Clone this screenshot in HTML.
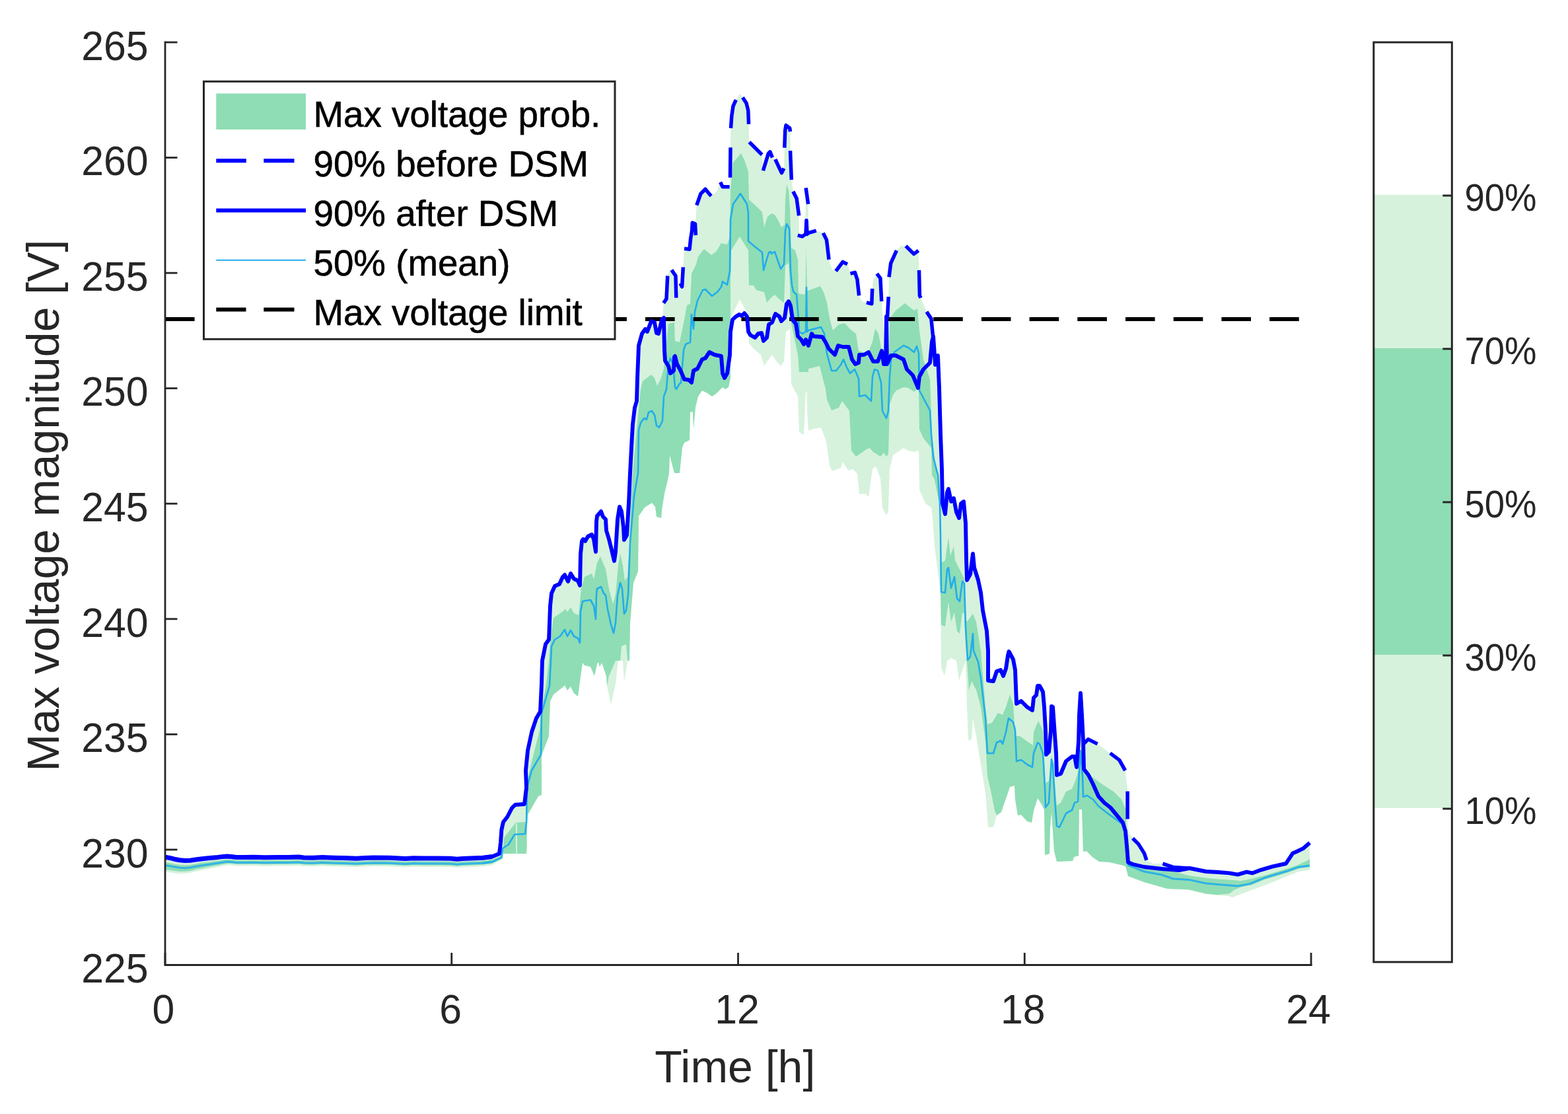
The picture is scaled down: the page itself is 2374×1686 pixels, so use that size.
<!DOCTYPE html>
<html lang="en"><head><meta charset="utf-8"><title>Max voltage magnitude</title>
<style>html,body{margin:0;padding:0;background:#fff}body{width:2374px;height:1686px;overflow:hidden}svg{display:block;filter:blur(0.75px)}text{font-family:"Liberation Sans",Arial,Helvetica,sans-serif}.tk{font-size:60px;fill:#262626}.lb{font-size:68px;fill:#262626}.lg{font-size:54.7px;fill:#000;stroke:#000;stroke-width:0.6px}.cb{font-size:54.5px;fill:#262626}</style>
</head><body>
<svg width="2374" height="1686" viewBox="0 0 2374 1686">
<rect width="2374" height="1686" fill="#fff"/>
<g id="bands"><polygon fill="#d6f2dc" points="250.0,1297.3 256.0,1298.2 264.0,1300.2 272.0,1301.8 280.0,1302.6 288.0,1302.2 296.0,1301.0 306.0,1299.8 318.0,1298.6 330.0,1297.4 338.0,1296.4 344.0,1296.0 350.0,1296.6 358.0,1297.4 370.0,1297.6 384.0,1297.2 400.0,1297.8 420.0,1297.4 436.0,1297.6 452.0,1297.0 460.0,1298.0 474.0,1298.2 488.0,1297.4 500.0,1298.0 520.0,1298.6 540.0,1299.2 552.0,1298.4 566.0,1298.0 590.0,1298.2 604.0,1299.0 614.0,1299.6 626.0,1298.8 640.0,1299.0 660.0,1299.0 682.0,1299.2 692.0,1300.2 700.0,1299.4 731.0,1298.2 745.0,1296.5 756.0,1292.0 758.0,1275.0 759.3,1256.0 762.0,1244.0 768.0,1236.5 775.0,1223.0 780.0,1218.0 794.0,1217.0 797.0,1192.0 796.0,1166.0 799.0,1136.0 805.0,1108.0 812.0,1087.0 818.0,1077.0 820.0,1035.0 821.0,1000.0 826.0,975.0 831.0,968.0 832.0,943.0 833.0,917.0 835.0,898.0 840.0,887.0 847.0,884.0 852.0,873.0 855.0,870.0 860.0,880.0 864.0,868.0 869.0,876.0 875.0,879.0 878.0,886.0 879.0,838.0 881.0,819.0 883.0,816.0 886.0,819.0 890.0,812.0 896.0,809.0 899.0,816.0 902.0,835.0 903.0,789.0 904.0,781.0 910.0,774.0 913.0,782.0 917.0,786.0 918.0,803.0 922.0,816.0 925.0,828.0 930.0,849.0 932.0,835.0 935.0,786.0 938.0,767.0 941.0,774.0 944.0,798.0 945.0,817.0 949.0,810.0 952.0,761.0 954.0,716.0 956.0,677.0 958.0,642.0 961.0,617.0 964.0,607.0 965.0,572.0 967.0,523.0 972.0,505.0 977.0,498.0 980.0,502.0 986.0,486.0 991.0,488.0 994.0,504.0 997.0,505.0 1002.0,484.0 1003.0,484.0 1004.6,458.6 1009.0,440.0 1010.7,417.5 1013.0,411.0 1016.8,408.7 1023.0,417.5 1023.8,450.7 1027.0,440.0 1030.0,428.8 1032.6,434.0 1034.3,404.3 1036.0,376.3 1044.0,377.2 1045.7,360.6 1047.5,350.0 1048.3,335.2 1052.7,338.7 1054.8,310.7 1060.9,293.2 1067.9,286.2 1076.7,296.7 1085.0,290.0 1090.6,275.7 1094.1,282.7 1104.6,282.7 1105.2,268.7 1105.8,223.2 1106.5,194.0 1107.8,175.6 1110.0,160.7 1114.3,151.1 1118.0,145.0 1121.3,142.0 1124.4,147.6 1130.1,156.3 1132.7,166.8 1133.6,187.8 1134.4,215.0 1143.2,223.7 1153.7,234.2 1155.4,258.2 1157.2,252.0 1163.3,232.4 1165.9,229.8 1169.4,238.6 1173.8,241.2 1183.4,262.0 1186.8,254.7 1187.8,223.7 1188.7,197.5 1190.0,189.6 1195.7,194.0 1196.5,199.2 1196.7,228.1 1198.3,272.2 1200.8,289.7 1206.1,300.2 1209.6,326.4 1210.0,356.0 1214.8,357.9 1219.0,357.0 1220.1,284.4 1223.6,308.9 1224.0,352.6 1235.8,349.1 1246.3,352.6 1251.5,363.1 1255.0,392.9 1260.0,408.0 1265.5,410.4 1276.0,396.4 1283.0,399.9 1287.5,414.2 1294.4,412.4 1297.9,422.9 1300.6,447.4 1305.0,456.0 1311.9,457.9 1319.8,459.7 1320.7,436.9 1322.0,423.0 1327.7,414.2 1332.9,421.2 1334.7,456.2 1338.0,500.0 1341.0,551.0 1343.4,482.4 1345.2,449.2 1346.0,419.4 1348.7,398.4 1357.4,379.2 1364.0,372.0 1371.4,372.2 1383.6,384.4 1390.6,379.2 1391.5,408.9 1392.4,447.4 1394.1,450.9 1402.9,471.9 1409.9,482.4 1412.5,508.6 1416.0,552.0 1420.0,538.0 1422.0,587.0 1424.0,657.0 1426.0,710.0 1427.0,762.0 1431.0,778.0 1434.0,745.0 1436.0,740.0 1440.0,759.0 1444.0,754.0 1448.0,775.0 1452.0,784.0 1455.0,762.0 1459.0,759.0 1462.0,792.0 1463.0,845.0 1464.0,878.0 1469.0,869.0 1473.0,838.0 1475.0,859.0 1481.0,878.0 1485.0,897.0 1488.0,924.0 1494.0,955.0 1496.0,985.0 1496.0,1030.0 1504.0,1031.0 1509.0,1016.0 1515.0,1014.0 1519.0,1023.0 1523.0,1012.0 1526.0,992.0 1527.5,986.0 1534.0,998.0 1537.0,1014.0 1539.0,1065.0 1546.0,1061.0 1555.0,1070.0 1563.0,1075.0 1565.0,1056.0 1569.0,1052.0 1571.0,1038.0 1574.0,1038.0 1579.0,1047.0 1581.0,1070.0 1583.0,1105.0 1584.0,1142.0 1588.0,1138.0 1591.0,1105.0 1592.0,1069.0 1594.0,1070.0 1597.0,1112.0 1599.0,1140.0 1600.0,1173.0 1606.0,1171.0 1614.0,1152.0 1623.0,1145.0 1627.0,1145.0 1630.0,1161.0 1633.0,1122.0 1634.0,1082.0 1636.0,1049.0 1638.0,1082.0 1640.0,1122.0 1640.6,1125.9 1647.6,1118.9 1661.6,1125.9 1680.8,1139.9 1694.8,1150.4 1703.6,1166.2 1706.0,1184.0 1707.1,1197.6 1707.1,1239.6 1709.0,1260.0 1714.9,1268.7 1723.6,1277.4 1732.4,1291.4 1735.9,1301.9 1746.0,1307.0 1760.4,1307.1 1776.1,1312.4 1798.9,1314.1 1801.0,1314.0 1826.0,1319.0 1844.0,1320.0 1861.0,1321.4 1874.0,1323.6 1887.5,1319.6 1896.0,1321.4 1909.0,1316.6 1927.0,1311.3 1947.0,1307.0 1957.4,1291.2 1961.8,1289.5 1973.0,1284.2 1983.0,1275.5 1983.0,1316.6 1966.0,1319.2 1948.7,1326.2 1913.7,1340.2 1887.5,1349.8 1874.0,1355.0 1865.6,1358.5 1861.0,1356.0 1843.7,1355.0 1826.0,1353.3 1800.0,1347.0 1767.0,1345.0 1732.0,1335.0 1708.0,1326.0 1704.0,1311.0 1697.0,1309.0 1680.0,1305.0 1664.0,1304.0 1654.0,1297.0 1645.0,1288.0 1640.0,1289.0 1638.0,1225.0 1634.0,1225.0 1633.0,1295.0 1626.0,1297.0 1624.0,1303.0 1600.0,1304.0 1596.0,1288.0 1592.0,1228.0 1590.0,1253.0 1589.0,1292.0 1582.0,1294.0 1581.0,1226.0 1578.0,1219.0 1571.0,1208.0 1565.0,1227.0 1562.0,1245.0 1555.0,1243.0 1546.0,1233.0 1541.0,1234.0 1537.0,1210.0 1536.0,1189.0 1529.0,1191.0 1525.0,1203.0 1520.0,1217.0 1516.0,1229.0 1509.0,1234.0 1506.0,1245.0 1504.0,1252.0 1496.0,1252.0 1492.0,1201.0 1485.0,1157.0 1478.0,1114.0 1473.0,1087.0 1471.0,1119.0 1466.0,1121.0 1464.0,1070.0 1462.0,1000.0 1458.0,1012.0 1452.0,1030.0 1448.0,1000.0 1440.0,996.0 1434.0,1000.0 1430.0,1023.0 1425.0,1010.0 1424.0,897.0 1415.0,827.0 1413.0,800.0 1412.0,784.0 1410.0,768.0 1401.0,762.0 1392.0,741.0 1391.0,682.0 1384.0,684.0 1375.0,682.0 1368.0,678.0 1352.0,689.0 1347.0,710.0 1345.0,773.0 1342.0,780.0 1336.0,769.0 1333.0,724.0 1326.0,706.0 1321.0,710.0 1315.0,752.0 1310.0,747.0 1301.0,748.0 1298.0,717.0 1291.0,710.0 1284.0,712.0 1276.0,699.0 1273.0,708.0 1260.0,713.0 1256.0,705.0 1252.0,675.0 1250.0,665.0 1243.0,647.0 1232.0,649.0 1224.0,652.0 1220.0,589.0 1217.0,658.0 1210.0,654.0 1208.0,600.0 1198.0,581.0 1197.0,537.0 1196.0,498.0 1190.0,502.0 1187.0,547.0 1182.0,554.0 1175.0,546.0 1169.0,537.0 1162.0,546.0 1157.0,554.0 1152.0,537.0 1141.0,528.0 1134.0,519.0 1133.0,477.0 1120.0,453.0 1110.0,474.0 1106.0,484.0 1106.0,572.0 1103.0,586.0 1098.0,589.0 1094.0,586.0 1091.0,589.0 1085.0,595.0 1078.0,600.0 1071.0,595.0 1063.0,591.0 1057.0,600.0 1053.0,616.0 1050.0,649.0 1049.0,623.0 1045.0,624.0 1044.0,666.0 1036.0,670.0 1033.0,677.0 1029.0,716.0 1021.0,716.0 1014.0,689.0 1013.0,716.0 1011.0,726.0 1006.0,747.0 1002.0,772.0 1001.0,784.0 994.0,782.0 992.0,767.0 987.0,761.0 976.0,768.0 967.0,781.0 966.0,865.0 959.0,882.0 954.0,943.0 953.0,1000.0 950.0,1000.0 945.0,1033.0 943.0,1000.0 936.0,1000.0 932.0,1035.0 925.0,1066.0 919.0,1038.0 918.0,1023.0 911.0,1003.0 908.0,1009.0 906.0,1002.0 904.0,1005.0 900.0,1023.0 894.0,1009.0 885.0,1007.0 882.0,1003.0 878.0,1031.0 875.0,1054.0 869.0,1049.0 864.0,1039.0 859.0,1045.0 855.0,1037.0 852.0,1040.0 838.0,1051.0 833.0,1061.0 831.0,1114.0 820.0,1143.0 820.0,1203.0 815.0,1205.0 799.0,1233.0 798.0,1245.0 797.5,1284.0 797.0,1292.0 762.0,1292.0 761.0,1300.0 745.0,1309.5 731.0,1311.2 700.0,1312.4 692.0,1313.2 682.0,1312.2 660.0,1312.0 640.0,1312.0 626.0,1311.8 614.0,1312.6 604.0,1312.0 590.0,1311.2 566.0,1311.0 552.0,1311.4 540.0,1312.2 520.0,1311.6 500.0,1311.0 488.0,1310.4 474.0,1311.2 460.0,1311.0 452.0,1310.0 436.0,1310.6 420.0,1310.4 400.0,1310.8 384.0,1310.2 370.0,1310.6 358.0,1310.4 350.0,1309.6 344.0,1309.6 338.0,1310.5 330.0,1312.3 318.0,1314.6 306.0,1317.0 296.0,1319.1 288.0,1321.1 280.0,1322.2 272.0,1322.2 264.0,1321.4 256.0,1320.1 250.0,1319.8"/>
<polygon fill="#8fddb4" points="250.0,1305.3 256.0,1306.0 264.0,1307.7 272.0,1309.0 280.0,1309.5 288.0,1308.9 296.0,1307.4 306.0,1305.8 318.0,1304.2 330.0,1302.6 338.0,1301.3 344.0,1300.7 350.0,1301.1 358.0,1301.9 370.0,1302.1 384.0,1301.7 400.0,1302.3 420.0,1301.9 436.0,1302.1 452.0,1301.5 460.0,1302.5 474.0,1302.7 488.0,1301.9 500.0,1302.5 520.0,1303.1 540.0,1303.7 552.0,1302.9 566.0,1302.5 590.0,1302.7 604.0,1303.5 614.0,1304.1 626.0,1303.3 640.0,1303.5 660.0,1303.5 682.0,1303.7 692.0,1304.7 700.0,1303.9 731.0,1302.7 745.0,1301.0 761.0,1294.0 763.0,1268.0 781.0,1245.0 796.0,1244.0 797.0,1201.0 800.0,1175.0 806.0,1149.0 817.0,1105.0 819.0,1079.0 827.0,1035.0 831.0,1000.0 834.0,961.0 838.0,935.0 854.0,924.0 855.0,921.0 859.0,926.0 864.0,919.0 869.0,928.0 876.0,931.0 880.0,891.0 885.0,873.0 896.0,868.0 899.0,877.0 904.0,852.0 909.0,842.0 913.0,852.0 917.0,861.0 922.0,891.0 928.0,914.0 932.0,900.0 936.0,856.0 939.0,838.0 943.0,856.0 946.0,879.0 950.0,873.0 953.0,828.0 955.0,768.0 958.0,716.0 963.0,660.0 970.0,589.0 973.0,577.0 986.0,567.0 991.0,572.0 995.0,584.0 1001.0,572.0 1005.0,558.0 1012.0,490.0 1021.0,488.0 1022.0,516.0 1029.0,518.0 1036.0,484.0 1040.0,462.0 1045.0,460.0 1047.0,414.0 1054.0,400.0 1057.0,388.0 1066.0,377.0 1077.0,386.0 1084.0,381.0 1092.0,368.0 1101.0,370.0 1105.0,358.0 1106.0,288.0 1110.0,246.0 1122.0,232.0 1127.0,242.0 1133.0,260.0 1134.0,302.0 1145.0,312.0 1154.0,321.0 1157.0,344.0 1162.0,328.0 1168.0,323.0 1173.0,325.0 1178.0,333.0 1183.0,344.0 1188.0,340.0 1189.0,302.0 1191.0,279.0 1194.0,288.0 1196.0,316.0 1198.0,375.0 1204.0,379.0 1208.0,393.0 1209.0,444.0 1217.0,446.0 1219.3,444.0 1220.6,376.0 1222.0,440.0 1226.0,439.0 1242.0,433.0 1247.0,442.0 1252.0,458.0 1256.0,482.0 1261.0,500.0 1270.0,491.0 1279.0,489.0 1287.0,498.0 1296.0,505.0 1300.0,531.0 1314.0,535.0 1321.0,517.0 1325.0,497.0 1330.0,505.0 1335.0,531.0 1340.0,552.0 1346.0,552.0 1347.0,482.0 1356.0,470.0 1370.0,459.0 1384.0,470.0 1389.0,467.0 1392.0,500.0 1398.0,544.0 1408.0,574.0 1409.0,600.0 1411.0,660.0 1415.0,690.0 1419.0,725.0 1421.0,745.0 1423.0,792.0 1425.0,852.0 1431.0,848.0 1436.0,813.0 1439.0,841.0 1444.0,827.0 1446.0,848.0 1453.0,862.0 1460.0,876.0 1461.0,932.0 1464.0,941.0 1473.0,929.0 1478.0,941.0 1485.0,985.0 1492.0,1070.0 1495.0,1096.0 1502.0,1094.0 1511.0,1079.0 1518.0,1082.0 1523.0,1070.0 1529.0,1051.0 1534.0,1066.0 1537.0,1114.0 1544.0,1114.0 1555.0,1122.0 1564.0,1128.0 1565.0,1108.0 1572.0,1091.0 1579.0,1105.0 1581.0,1149.0 1583.0,1185.0 1588.0,1182.0 1592.0,1143.0 1597.0,1184.0 1600.0,1219.0 1606.0,1215.0 1614.0,1198.0 1623.0,1194.0 1628.0,1182.0 1633.0,1166.0 1636.0,1136.0 1641.0,1166.0 1642.0,1168.0 1655.0,1177.0 1669.0,1187.0 1686.0,1198.0 1698.0,1210.0 1704.0,1224.0 1706.0,1262.0 1708.0,1284.0 1708.0,1307.0 1759.0,1314.0 1800.0,1325.3 1826.0,1328.8 1843.7,1330.6 1870.0,1332.3 1878.7,1333.2 1896.0,1329.7 1913.7,1325.3 1948.7,1314.8 1966.0,1308.7 1979.0,1302.6 1983.0,1300.0 1983.0,1312.2 1966.0,1314.8 1948.7,1321.0 1913.7,1331.4 1896.0,1339.3 1878.7,1342.8 1870.0,1346.3 1861.0,1352.4 1843.7,1354.2 1826.0,1352.4 1800.0,1346.3 1767.0,1345.0 1732.0,1335.0 1708.0,1326.0 1704.0,1311.0 1697.0,1309.0 1680.0,1305.0 1664.0,1304.0 1654.0,1297.0 1645.0,1288.0 1640.0,1289.0 1638.0,1225.0 1634.0,1225.0 1633.0,1295.0 1626.0,1297.0 1624.0,1303.0 1600.0,1304.0 1596.0,1288.0 1592.0,1228.0 1590.0,1253.0 1589.0,1292.0 1582.0,1294.0 1581.0,1226.0 1578.0,1219.0 1571.0,1208.0 1565.0,1227.0 1562.0,1245.0 1555.0,1243.0 1546.0,1233.0 1541.0,1234.0 1537.0,1210.0 1536.0,1189.0 1529.0,1191.0 1525.0,1203.0 1520.0,1217.0 1516.0,1229.0 1509.0,1234.0 1506.0,1227.0 1501.0,1201.0 1495.0,1175.0 1492.0,1122.0 1485.0,1070.0 1478.0,1044.0 1471.0,1031.0 1467.0,1045.0 1464.0,1000.0 1462.0,976.0 1460.0,929.0 1457.0,927.0 1453.0,959.0 1449.0,955.0 1445.0,927.0 1440.0,941.0 1436.0,911.0 1431.0,948.0 1425.0,946.0 1424.0,897.0 1423.0,784.0 1422.0,762.0 1415.0,726.0 1411.0,719.0 1410.0,678.0 1398.0,663.0 1392.0,650.0 1391.0,587.0 1384.0,593.0 1375.0,587.0 1368.0,586.0 1357.0,591.0 1352.0,598.0 1347.0,612.0 1345.0,687.0 1342.0,691.0 1338.0,685.0 1333.0,691.0 1322.0,684.0 1317.0,678.0 1312.0,680.0 1296.0,691.0 1289.0,682.0 1286.0,622.0 1275.0,607.0 1270.0,617.0 1259.0,621.0 1252.0,605.0 1250.0,589.0 1241.0,554.0 1224.0,558.0 1224.0,563.0 1210.0,563.0 1208.0,537.0 1197.0,484.0 1196.0,432.0 1194.0,398.0 1189.0,402.0 1188.0,432.0 1187.0,458.0 1180.0,453.0 1173.0,446.0 1168.0,450.0 1161.0,458.0 1157.0,442.0 1145.0,439.0 1141.0,432.0 1134.0,432.0 1133.0,379.0 1120.0,358.0 1107.0,379.0 1106.0,432.0 1106.0,572.0 1103.0,586.0 1098.0,589.0 1094.0,586.0 1091.0,589.0 1085.0,595.0 1078.0,600.0 1071.0,595.0 1063.0,591.0 1057.0,600.0 1053.0,616.0 1050.0,649.0 1049.0,623.0 1045.0,624.0 1044.0,666.0 1036.0,670.0 1033.0,677.0 1029.0,716.0 1021.0,716.0 1014.0,689.0 1013.0,716.0 1011.0,726.0 1006.0,747.0 1002.0,772.0 1001.0,784.0 994.0,782.0 992.0,767.0 987.0,761.0 976.0,768.0 967.0,781.0 966.0,865.0 959.0,882.0 954.0,943.0 953.0,1000.0 950.0,1000.0 948.0,975.0 941.0,978.0 939.0,1000.0 932.0,1000.0 922.0,1023.0 919.0,1038.0 918.0,1023.0 911.0,1003.0 908.0,1009.0 906.0,1002.0 904.0,1005.0 900.0,1023.0 894.0,1009.0 885.0,1007.0 882.0,1003.0 878.0,1031.0 875.0,1054.0 869.0,1049.0 864.0,1039.0 859.0,1045.0 855.0,1037.0 852.0,1040.0 838.0,1051.0 833.0,1061.0 831.0,1114.0 820.0,1143.0 820.0,1203.0 815.0,1205.0 799.0,1233.0 798.0,1245.0 797.5,1284.0 797.0,1292.0 762.0,1292.0 761.0,1299.0 745.0,1307.0 731.0,1308.7 700.0,1309.9 692.0,1310.7 682.0,1309.7 660.0,1309.5 640.0,1309.5 626.0,1309.3 614.0,1310.1 604.0,1309.5 590.0,1308.7 566.0,1308.5 552.0,1308.9 540.0,1309.7 520.0,1309.1 500.0,1308.5 488.0,1307.9 474.0,1308.7 460.0,1308.5 452.0,1307.5 436.0,1308.1 420.0,1307.9 400.0,1308.3 384.0,1307.7 370.0,1308.1 358.0,1307.9 350.0,1307.1 344.0,1307.0 338.0,1307.9 330.0,1309.6 318.0,1311.8 306.0,1314.0 296.0,1316.1 288.0,1318.0 280.0,1319.0 272.0,1318.9 264.0,1318.0 256.0,1316.7 250.0,1316.3"/></g>
<path d="M782 1246 V1291.5 M1221 593 V654" stroke="#fff" stroke-width="1.4" stroke-opacity="0.85" fill="none"/>
<path fill="none" stroke="#22adeb" stroke-opacity="0.85" stroke-width="3" stroke-linejoin="round" d="M250.0 1309.8 L256.0 1310.4 L264.0 1312.1 L272.0 1313.3 L280.0 1313.8 L288.0 1313.0 L296.0 1311.4 L306.0 1309.8 L318.0 1308.0 L330.0 1306.3 L338.0 1304.9 L344.0 1304.3 L350.0 1304.6 L358.0 1305.4 L370.0 1305.6 L384.0 1305.2 L400.0 1305.8 L420.0 1305.4 L436.0 1305.6 L452.0 1305.0 L460.0 1306.0 L474.0 1306.2 L488.0 1305.4 L500.0 1306.0 L520.0 1306.6 L540.0 1307.2 L552.0 1306.4 L566.0 1306.0 L590.0 1306.2 L604.0 1307.0 L614.0 1307.6 L626.0 1306.8 L640.0 1307.0 L660.0 1307.0 L682.0 1307.2 L692.0 1308.2 L700.0 1307.4 L731.0 1306.2 L745.0 1304.5"/>
<path id="mean" fill="none" stroke="#22adeb" stroke-width="2.6" stroke-linejoin="round" d="M731.0 1306.2 L745.0 1304.5 L759.0 1298.0 L761.0 1284.0 L770.0 1278.0 L779.0 1263.0 L795.0 1262.0 L797.0 1245.0 L798.0 1192.0 L805.0 1166.0 L819.0 1142.0 L820.0 1079.0 L832.0 1038.0 L834.0 1000.0 L835.0 978.0 L840.0 968.0 L848.0 963.0 L855.0 953.0 L859.0 963.0 L864.0 954.0 L869.0 963.0 L875.0 966.0 L878.0 973.0 L879.0 926.0 L882.0 910.0 L894.0 908.0 L899.0 917.0 L902.0 937.0 L903.0 900.0 L904.0 891.0 L910.0 888.0 L914.0 898.0 L917.0 901.0 L920.0 922.0 L925.0 945.0 L929.0 958.0 L932.0 943.0 L935.0 901.0 L939.0 882.0 L942.0 891.0 L945.0 929.0 L948.0 924.0 L951.0 900.0 L954.0 821.0 L960.0 751.0 L966.0 716.0 L967.0 651.0 L970.0 640.0 L975.0 633.0 L979.0 635.0 L982.0 624.0 L987.0 622.0 L991.0 628.0 L994.0 644.0 L998.0 647.0 L1003.0 637.0 L1005.0 600.0 L1009.0 589.0 L1012.0 551.0 L1015.0 542.0 L1019.0 551.0 L1022.0 586.0 L1024.0 589.0 L1028.0 582.0 L1031.0 579.0 L1035.0 530.0 L1038.0 521.0 L1045.0 518.0 L1047.0 476.0 L1050.0 498.0 L1052.0 472.0 L1056.0 455.0 L1064.0 439.0 L1068.0 438.0 L1078.0 448.0 L1087.0 441.0 L1092.0 434.0 L1094.0 426.0 L1101.0 431.0 L1105.0 410.0 L1106.0 332.0 L1110.0 309.0 L1121.0 293.0 L1131.0 309.0 L1133.0 323.0 L1133.0 365.0 L1145.0 375.0 L1154.0 382.0 L1156.0 409.0 L1164.0 382.0 L1167.0 381.0 L1168.0 384.0 L1173.0 381.0 L1182.0 407.0 L1187.0 400.0 L1189.0 349.0 L1191.0 339.0 L1195.0 346.0 L1197.0 410.0 L1199.0 432.0 L1201.0 441.0 L1206.0 446.0 L1209.0 484.0 L1210.0 502.0 L1215.0 505.0 L1220.0 502.0 L1221.0 435.0 L1222.0 502.0 L1224.0 500.0 L1243.0 495.0 L1248.0 505.0 L1252.0 535.0 L1259.0 561.0 L1266.0 561.0 L1273.0 552.0 L1277.0 544.0 L1282.0 556.0 L1287.0 565.0 L1294.0 559.0 L1300.0 573.0 L1301.0 600.0 L1310.0 598.0 L1319.0 607.0 L1321.0 570.0 L1324.0 559.0 L1329.0 561.0 L1334.0 579.0 L1336.0 622.0 L1342.0 633.0 L1345.0 622.0 L1347.0 570.0 L1349.0 544.0 L1354.0 533.0 L1368.0 523.0 L1375.0 526.0 L1384.0 533.0 L1388.0 524.0 L1391.0 535.0 L1392.0 591.0 L1401.0 608.0 L1408.0 621.0 L1410.0 657.0 L1413.0 692.0 L1420.0 719.0 L1423.0 762.0 L1424.0 810.0 L1425.0 896.0 L1431.0 897.0 L1434.0 862.0 L1436.0 859.0 L1440.0 890.0 L1445.0 873.0 L1449.0 906.0 L1453.0 910.0 L1457.0 880.0 L1460.0 883.0 L1462.0 950.0 L1465.0 999.0 L1469.0 994.0 L1473.0 959.0 L1474.0 985.0 L1481.0 1002.0 L1485.0 1026.0 L1492.0 1087.0 L1495.0 1140.0 L1504.0 1140.0 L1509.0 1124.0 L1515.0 1121.0 L1518.0 1126.0 L1523.0 1108.0 L1527.0 1087.0 L1534.0 1093.0 L1537.0 1105.0 L1539.0 1152.0 L1546.0 1150.0 L1555.0 1157.0 L1563.0 1161.0 L1565.0 1140.0 L1571.0 1124.0 L1574.0 1126.0 L1579.0 1140.0 L1582.0 1192.0 L1583.0 1222.0 L1588.0 1215.0 L1592.0 1149.0 L1594.0 1157.0 L1597.0 1210.0 L1600.0 1250.0 L1604.0 1252.0 L1614.0 1231.0 L1623.0 1226.0 L1627.0 1215.0 L1632.0 1213.0 L1634.0 1166.0 L1636.0 1136.0 L1639.0 1175.0 L1640.0 1206.0 L1646.0 1204.0 L1655.0 1210.0 L1663.0 1220.0 L1677.0 1231.0 L1691.0 1241.0 L1700.0 1248.0 L1705.0 1271.0 L1707.0 1284.0 L1708.0 1309.0 L1715.0 1312.0"/>
<path fill="none" stroke="#22adeb" stroke-opacity="0.9" stroke-width="3" stroke-linejoin="round" d="M1708.0 1309.0 L1715.0 1312.0 L1732.0 1319.0 L1759.0 1324.0 L1776.0 1330.0 L1800.0 1331.4 L1826.0 1337.0 L1852.5 1339.3 L1874.0 1341.0 L1892.0 1337.6 L1913.7 1328.8 L1948.7 1318.3 L1966.0 1312.2 L1983.0 1310.0"/>
<line id="limit" x1="250.0" y1="483.0" x2="1985.0" y2="483.0" stroke="#000" stroke-width="5.9" stroke-dasharray="44.6 28.1"/>
<g id="before" fill="none" stroke="#0000ff" stroke-width="5.5" stroke-linejoin="round">
<path d="M1004.6 458.6 L1009.0 452.4 L1010.7 417.5"/>
<path d="M1016.8 408.7 L1023.0 417.5 L1023.8 450.7"/>
<path d="M1030.0 428.8 L1032.6 434.0 L1034.3 404.3"/>
<path d="M1036.0 376.3 L1044.0 377.2 L1045.7 360.6 L1047.5 350.0 L1048.3 337.0 L1052.5 338.7 L1053.4 356.0"/>
<path d="M1054.8 310.7 L1060.9 293.2 L1067.9 286.2 L1076.7 296.7"/>
<path d="M1090.6 275.7 L1094.1 282.7 L1104.6 282.7"/>
<path d="M1105.5 268.7 L1106.0 223.2"/>
<path d="M1106.5 194.0 L1107.8 175.6 L1110.0 160.7 L1114.3 151.1"/>
<path d="M1124.4 147.6 L1130.1 156.3 L1132.7 166.8 L1133.6 187.8"/>
<path d="M1134.4 215.0 L1143.2 223.7 L1153.7 234.2"/>
<path d="M1155.4 258.2 L1163.3 232.4 L1165.9 229.8 L1169.4 238.6"/>
<path d="M1173.8 241.2 L1183.4 261.7 L1186.8 254.7"/>
<path d="M1187.8 223.7 L1188.7 197.5 L1190.0 189.6 L1195.7 194.0 L1196.5 199.2"/>
<path d="M1196.5 228.1 L1198.3 272.2"/>
<path d="M1200.8 289.7 L1206.1 300.2 L1209.6 326.4"/>
<path d="M1220.1 284.4 L1223.6 308.9"/>
<path d="M1207.8 356.1 L1214.8 357.9 L1220.0 354.0 L1221.0 333.4 L1222.0 354.4 L1223.6 352.6 L1235.8 349.1"/>
<path d="M1246.3 352.6 L1251.5 363.1 L1255.0 392.9"/>
<path d="M1265.5 410.4 L1276.0 396.4 L1283.0 399.9"/>
<path d="M1287.5 414.2 L1294.4 412.4 L1297.9 422.9 L1300.6 447.4"/>
<path d="M1311.9 457.9 L1319.8 459.7 L1320.7 436.9"/>
<path d="M1327.7 414.2 L1332.9 421.2 L1334.7 456.2"/>
<path d="M1345.2 449.2 L1343.4 482.4"/>
<path d="M1346.0 419.4 L1348.7 398.4 L1357.4 379.2"/>
<path d="M1371.4 372.2 L1383.6 384.4 L1390.6 379.2"/>
<path d="M1391.5 408.9 L1392.4 447.4 L1394.1 450.9"/>
<path d="M1402.9 471.9 L1409.9 482.4 L1412.5 508.6"/>
<path d="M1640.6 1125.9 L1647.6 1118.9 L1661.6 1125.9"/>
<path d="M1680.8 1139.9 L1694.8 1150.4 L1703.6 1166.2"/>
<path d="M1707.1 1197.6 L1707.1 1239.6"/>
<path d="M1714.9 1268.7 L1723.6 1277.4 L1732.4 1291.4 L1735.9 1301.9"/>
<path d="M1760.4 1307.1 L1776.1 1312.4 L1798.9 1314.1"/>
</g>
<path fill="none" stroke="#0000ff" stroke-width="7.0" stroke-linejoin="round" stroke-linecap="butt" d="M250.0 1297.3 L256.0 1298.2 L264.0 1300.2 L272.0 1301.8 L280.0 1302.6 L288.0 1302.2 L296.0 1301.0 L306.0 1299.8 L318.0 1298.6 L330.0 1297.4 L338.0 1296.4 L344.0 1296.0 L350.0 1296.6 L358.0 1297.4 L370.0 1297.6 L384.0 1297.2 L400.0 1297.8 L420.0 1297.4 L436.0 1297.6 L452.0 1297.0 L460.0 1298.0 L474.0 1298.2 L488.0 1297.4 L500.0 1298.0 L520.0 1298.6 L540.0 1299.2 L552.0 1298.4 L566.0 1298.0 L590.0 1298.2 L604.0 1299.0 L614.0 1299.6 L626.0 1298.8 L640.0 1299.0 L660.0 1299.0 L682.0 1299.2 L692.0 1300.2 L700.0 1299.4 L731.0 1298.2 L745.0 1296.5"/>
<path id="after" fill="none" stroke="#0000ff" stroke-width="5.9" stroke-linejoin="round" stroke-linecap="butt" d="M731.0 1298.2 L745.0 1296.5 L756.0 1292.0 L758.0 1275.0 L759.3 1256.0 L762.0 1244.0 L768.0 1236.5 L775.0 1223.0 L780.0 1218.0 L794.0 1217.0 L797.0 1192.0 L796.0 1166.0 L799.0 1136.0 L805.0 1108.0 L812.0 1087.0 L818.0 1077.0 L820.0 1035.0 L821.0 1000.0 L826.0 975.0 L831.0 968.0 L832.0 943.0 L833.0 917.0 L835.0 898.0 L840.0 887.0 L847.0 884.0 L852.0 873.0 L855.0 870.0 L860.0 880.0 L864.0 868.0 L869.0 876.0 L875.0 879.0 L878.0 886.0 L879.0 838.0 L881.0 819.0 L883.0 816.0 L886.0 819.0 L890.0 812.0 L896.0 809.0 L899.0 816.0 L902.0 835.0 L903.0 789.0 L904.0 781.0 L910.0 774.0 L913.0 782.0 L917.0 786.0 L918.0 803.0 L922.0 816.0 L925.0 828.0 L930.0 849.0 L932.0 835.0 L935.0 786.0 L938.0 767.0 L941.0 774.0 L944.0 798.0 L945.0 817.0 L949.0 810.0 L952.0 761.0 L954.0 716.0 L956.0 677.0 L958.0 642.0 L961.0 617.0 L964.0 607.0 L965.0 572.0 L967.0 523.0 L972.0 505.0 L977.0 498.0 L980.0 502.0 L986.0 486.0 L991.0 488.0 L994.0 504.0 L997.0 505.0 L1002.0 484.0 L1005.0 481.0 L1006.0 530.0 L1007.0 546.0 L1012.0 554.0 L1015.0 565.0 L1020.0 561.0 L1021.0 540.0 L1022.0 539.0 L1025.0 551.0 L1030.0 560.0 L1036.0 574.0 L1043.0 575.0 L1047.0 579.0 L1050.0 561.0 L1056.0 558.0 L1063.0 544.0 L1068.0 542.0 L1074.0 533.0 L1082.0 537.0 L1092.0 539.0 L1094.0 565.0 L1097.0 572.0 L1101.0 565.0 L1105.0 537.0 L1106.0 502.0 L1109.0 484.0 L1113.0 480.0 L1119.0 476.0 L1123.0 478.0 L1127.0 474.0 L1131.0 479.0 L1133.0 502.0 L1136.0 507.0 L1143.0 511.0 L1148.0 505.0 L1153.0 504.0 L1156.0 516.0 L1161.0 511.0 L1164.0 491.0 L1169.0 488.0 L1174.0 475.0 L1180.0 479.0 L1183.0 486.0 L1188.0 481.0 L1191.0 460.0 L1194.0 456.0 L1197.0 463.0 L1200.0 484.0 L1205.0 490.0 L1208.0 509.0 L1213.0 514.0 L1217.0 521.0 L1220.0 514.0 L1224.0 523.0 L1229.0 505.0 L1232.0 509.0 L1245.0 510.0 L1250.0 518.0 L1255.0 528.0 L1264.0 537.0 L1269.0 523.0 L1276.0 525.0 L1285.0 525.0 L1290.0 544.0 L1295.0 551.0 L1300.0 549.0 L1301.0 537.0 L1308.0 537.0 L1315.0 533.0 L1322.0 547.0 L1329.0 547.0 L1335.0 531.0 L1338.0 551.0 L1341.0 551.0 L1342.0 479.0 L1343.0 551.0 L1349.0 538.0 L1356.0 538.0 L1368.0 544.0 L1373.0 559.0 L1382.0 568.0 L1390.0 587.0 L1392.0 570.0 L1398.0 559.0 L1408.0 549.0 L1411.0 517.0 L1413.0 509.0 L1416.0 552.0 L1420.0 538.0 L1422.0 587.0 L1424.0 657.0 L1426.0 710.0 L1427.0 762.0 L1431.0 778.0 L1434.0 745.0 L1436.0 740.0 L1440.0 759.0 L1444.0 754.0 L1448.0 775.0 L1452.0 784.0 L1455.0 762.0 L1459.0 759.0 L1462.0 792.0 L1463.0 845.0 L1464.0 878.0 L1469.0 869.0 L1473.0 838.0 L1475.0 859.0 L1481.0 878.0 L1485.0 897.0 L1488.0 924.0 L1494.0 955.0 L1496.0 985.0 L1496.0 1030.0 L1504.0 1031.0 L1509.0 1016.0 L1515.0 1014.0 L1519.0 1023.0 L1523.0 1012.0 L1526.0 992.0 L1527.5 986.0 L1534.0 998.0 L1537.0 1014.0 L1539.0 1065.0 L1546.0 1061.0 L1555.0 1070.0 L1563.0 1075.0 L1565.0 1056.0 L1569.0 1052.0 L1571.0 1038.0 L1574.0 1038.0 L1579.0 1047.0 L1581.0 1070.0 L1583.0 1105.0 L1584.0 1142.0 L1588.0 1138.0 L1591.0 1105.0 L1592.0 1069.0 L1594.0 1070.0 L1597.0 1112.0 L1599.0 1140.0 L1600.0 1173.0 L1606.0 1171.0 L1614.0 1152.0 L1623.0 1145.0 L1627.0 1145.0 L1630.0 1161.0 L1633.0 1122.0 L1634.0 1082.0 L1636.0 1049.0 L1638.0 1082.0 L1640.0 1122.0 L1641.0 1164.0 L1648.0 1173.0 L1655.0 1187.0 L1663.0 1205.0 L1672.0 1215.0 L1681.0 1222.0 L1691.0 1234.0 L1700.0 1245.0 L1704.0 1258.0 L1706.0 1280.0 L1708.0 1305.0 L1715.0 1308.0 L1732.0 1312.0 L1759.0 1315.0 L1785.0 1317.0 L1801.0 1314.0 L1826.0 1319.0 L1844.0 1320.0 L1861.0 1321.4 L1874.0 1323.6 L1887.5 1319.6 L1896.0 1321.4 L1909.0 1316.6 L1927.0 1311.3 L1947.0 1307.0 L1957.4 1291.2 L1961.8 1289.5 L1973.0 1284.2 L1983.0 1275.5"/>
<g id="axes" stroke="#262626" stroke-width="2.8" fill="none">
<path d="M250.0 62.5 V1460.5 H1986.5"/>
<path d="M250.0 1460.50 h18.5"/>
<path d="M250.0 1285.94 h18.5"/>
<path d="M250.0 1111.38 h18.5"/>
<path d="M250.0 936.81 h18.5"/>
<path d="M250.0 762.25 h18.5"/>
<path d="M250.0 587.69 h18.5"/>
<path d="M250.0 413.12 h18.5"/>
<path d="M250.0 238.56 h18.5"/>
<path d="M250.0 64.00 h18.5"/>
<path d="M250.00 1460.5 v-18.5"/>
<path d="M683.75 1460.5 v-18.5"/>
<path d="M1117.50 1460.5 v-18.5"/>
<path d="M1551.25 1460.5 v-18.5"/>
<path d="M1985.00 1460.5 v-18.5"/>
</g>
<g id="yticks" class="tk" text-anchor="end">
<text transform="translate(224.6 1487.2) scale(1.012 1.05)">225</text>
<text transform="translate(224.6 1312.6) scale(1.012 1.05)">230</text>
<text transform="translate(224.6 1138.1) scale(1.012 1.05)">235</text>
<text transform="translate(224.6 963.5) scale(1.012 1.05)">240</text>
<text transform="translate(224.6 789.0) scale(1.012 1.05)">245</text>
<text transform="translate(224.6 614.4) scale(1.012 1.05)">250</text>
<text transform="translate(224.6 439.8) scale(1.012 1.05)">255</text>
<text transform="translate(224.6 265.3) scale(1.012 1.05)">260</text>
<text transform="translate(224.6 90.7) scale(1.012 1.05)">265</text>
</g>
<g id="xticks" class="tk" text-anchor="middle">
<text transform="translate(247.5 1549.3) scale(1.012 1.05)">0</text>
<text transform="translate(682.2 1549.3) scale(1.012 1.05)">6</text>
<text transform="translate(1116.0 1549.3) scale(1.012 1.05)">12</text>
<text transform="translate(1548.8 1549.3) scale(1.012 1.05)">18</text>
<text transform="translate(1981.0 1549.3) scale(1.012 1.05)">24</text>
</g>
<text class="lb" text-anchor="middle" transform="translate(1112.8 1638) scale(1 1.02)">Time [h]</text>
<text class="lb" text-anchor="middle" transform="translate(89 765) rotate(-90) scale(1 1.02)">Max voltage magnitude [V]</text>
<g id="legend">
<rect x="308.5" y="123.3" width="622.5" height="389.99999999999994" fill="#fff" stroke="#262626" stroke-width="3"/>
<rect x="327.3" y="141.5" width="135.7" height="54.5" fill="#8fddb4"/>
<path d="M327.3 243.3 H372.8 M399.3 243.3 H445.5" stroke="#0000ff" stroke-width="5.9" fill="none"/>
<path d="M327.3 318.5 H463" stroke="#0000ff" stroke-width="5.9" fill="none"/>
<path d="M327.3 393.8 H463" stroke="#22adeb" stroke-width="2" fill="none"/>
<path d="M327.3 468.5 H372.5 M399.3 468.5 H445.5" stroke="#000" stroke-width="5.9" fill="none"/>
<text class="lg" transform="translate(474.5 192.1) scale(1 1.015)">Max voltage prob.</text>
<text class="lg" transform="translate(474.5 266.6) scale(1 1.015)">90% before DSM</text>
<text class="lg" transform="translate(474.5 341.8) scale(1 1.015)">90% after DSM</text>
<text class="lg" transform="translate(474.5 417.1) scale(1 1.015)">50% (mean)</text>
<text class="lg" transform="translate(474.5 491.8) scale(1 1.015)">Max voltage limit</text>
</g>
<g id="colorbar">
<rect x="2079.8" y="64.0" width="118.5" height="1392.0" fill="#fff"/>
<rect x="2079.8" y="295.0" width="118.5" height="928.0" fill="#d6f2dc"/>
<rect x="2079.8" y="527.0" width="118.5" height="464.0" fill="#8fddb4"/>
<rect x="2079.8" y="64.0" width="118.5" height="1392.0" fill="none" stroke="#262626" stroke-width="3"/>
<path d="M2198.3 296.0 h-14" stroke="#262626" stroke-width="3"/>
<text class="cb" transform="translate(2217.5 319.3) scale(1 1.045)">90%</text>
<path d="M2198.3 528.0 h-14" stroke="#262626" stroke-width="3"/>
<text class="cb" transform="translate(2217.5 551.3) scale(1 1.045)">70%</text>
<path d="M2198.3 760.0 h-14" stroke="#262626" stroke-width="3"/>
<text class="cb" transform="translate(2217.5 783.3) scale(1 1.045)">50%</text>
<path d="M2198.3 992.0 h-14" stroke="#262626" stroke-width="3"/>
<text class="cb" transform="translate(2217.5 1015.3) scale(1 1.045)">30%</text>
<path d="M2198.3 1224.0 h-14" stroke="#262626" stroke-width="3"/>
<text class="cb" transform="translate(2217.5 1247.3) scale(1 1.045)">10%</text>
</g>
</svg></body></html>
